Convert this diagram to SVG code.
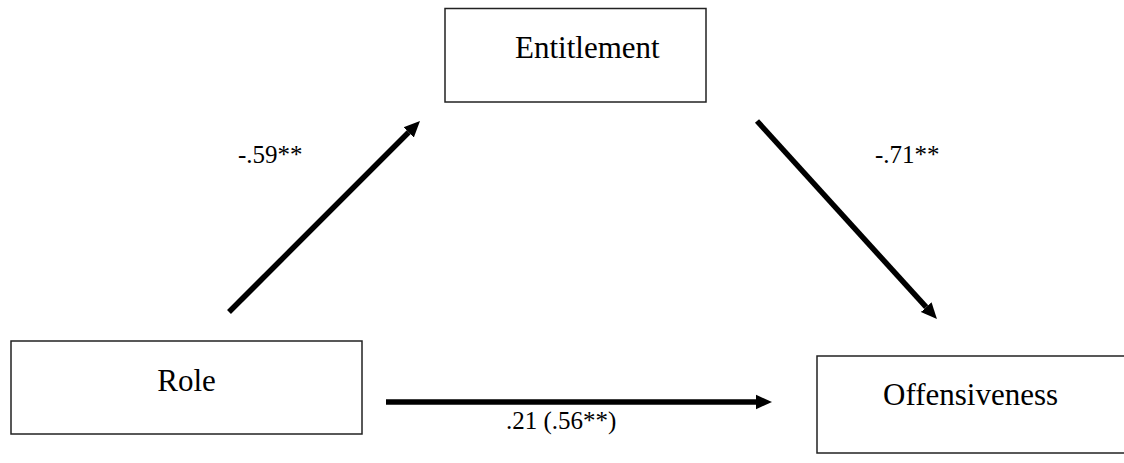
<svg xmlns="http://www.w3.org/2000/svg" width="1124" height="463" viewBox="0 0 1124 463">
<style>
.box{fill:#fff;stroke:#222;stroke-width:1.5}
.nt{font-family:"Liberation Serif","Times New Roman",serif;font-size:31px;fill:#000}
.lb{font-family:"Liberation Serif","Times New Roman",serif;font-size:25px;fill:#000}
.arr{stroke:#000;stroke-width:5.5;fill:none;marker-end:url(#ah)}
</style>
<defs>
<marker id="ah" markerUnits="userSpaceOnUse" markerWidth="16" markerHeight="16" viewBox="0 0 16 16" refX="0" refY="8" orient="auto">
<path d="M0,0.8 L16,8 L0,15.2 z" fill="#000"/>
</marker>
</defs>
<rect width="1124" height="463" fill="#fff"/>
<g id="entitlement">
<rect class="box" x="445" y="8.5" width="261" height="93.5"/>
<text class="nt" x="515" y="58">Entitlement</text>
</g>
<g id="role">
<rect class="box" x="11" y="341" width="351" height="93"/>
<text class="nt" x="186.5" y="391" text-anchor="middle">Role</text>
</g>
<g id="offensiveness">
<rect class="box" x="817" y="356" width="320" height="97"/>
<text class="nt" x="883" y="405">Offensiveness</text>
</g>
<g id="connectors">
<line class="arr" x1="229" y1="312" x2="408.7" y2="132.3"/>
<line class="arr" x1="757" y1="121" x2="926.2" y2="307.2"/>
<line class="arr" x1="386" y1="402" x2="756" y2="402"/>
</g>
<g id="labels">
<text class="lb" x="238" y="163">-.59**</text>
<text class="lb" x="875" y="163">-.71**</text>
<text class="lb" x="506" y="429">.21 (.56**)</text>
</g>
</svg>
